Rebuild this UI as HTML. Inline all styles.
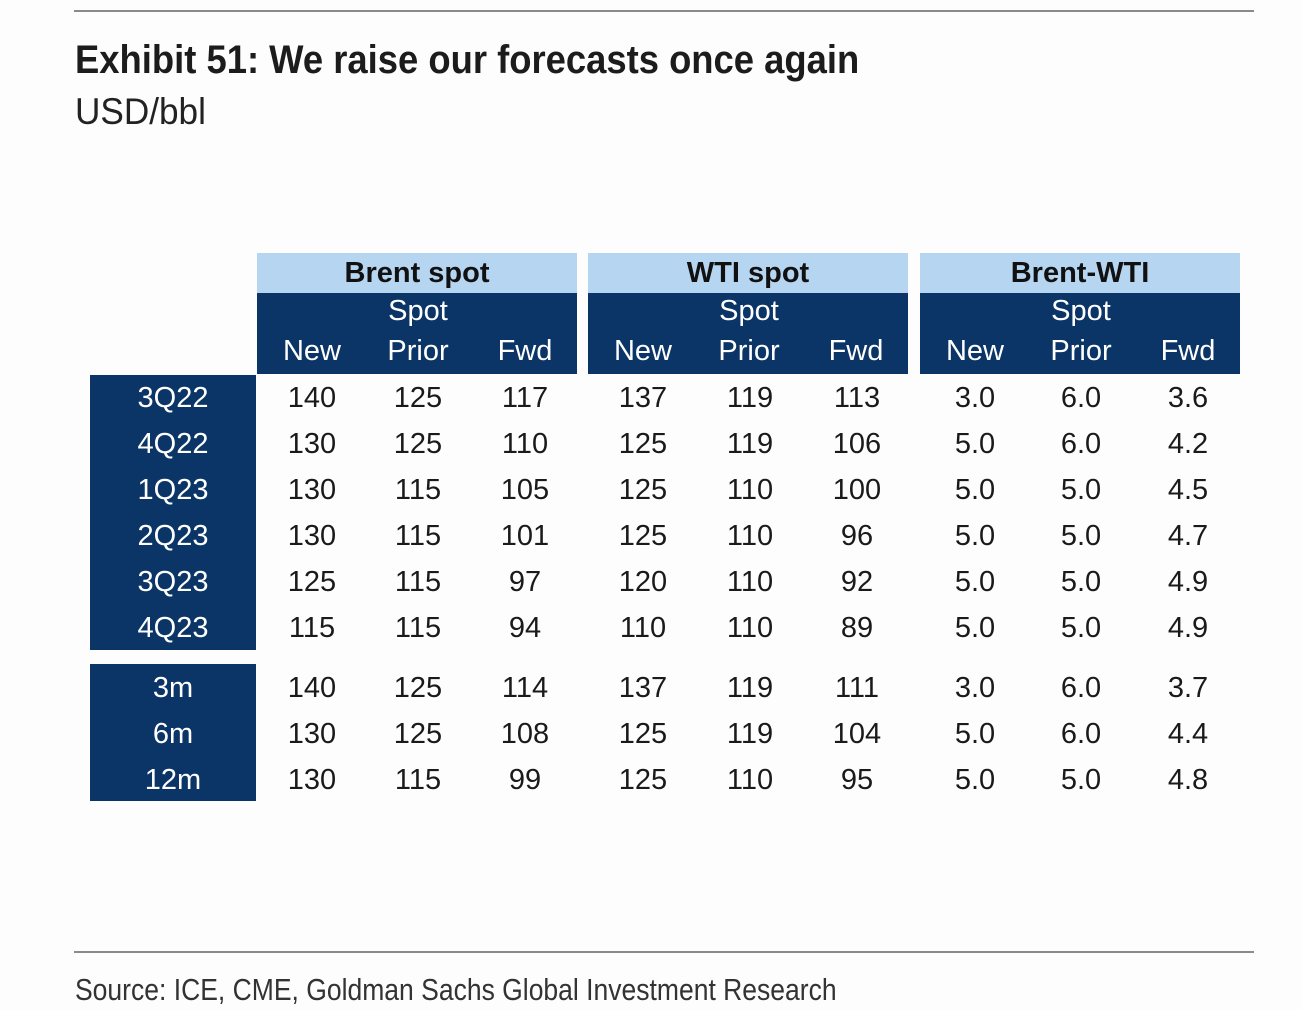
<!DOCTYPE html>
<html><head><meta charset="utf-8"><style>
body{margin:0;width:1302px;height:1010px;background:#fdfdfe;position:relative;overflow:hidden;font-family:"Liberation Sans",Arial,sans-serif;}
.a{position:absolute}
.hl{position:absolute;left:74px;width:1180px;height:2px;background:#8a8a8a}
.t{position:absolute;white-space:nowrap;transform-origin:0 0}
.lb{background:#b6d5f1;position:absolute;top:253px;height:40px;width:320px;text-align:center;font-weight:bold;font-size:29px;line-height:40px;color:#111}
.db{background:#0b3566;position:absolute;top:293px;height:81px;width:320px;color:#fff;font-size:29px}
.db div{position:absolute;width:100px;text-align:center;margin-left:-50px}
.lab{background:#0b3566;position:absolute;left:90px;width:166px;color:#fff;font-size:29px}
.lab div{position:absolute;width:166px;text-align:center;height:46px;line-height:46px}
.r{position:absolute;left:0;width:1302px;height:46px;line-height:46px;font-size:29px;color:#1a1a1a}
.r span{position:absolute;width:100px;text-align:center;margin-left:-50px}
</style></head><body>
<div class="hl" style="top:10px"></div>
<div class="t" style="left:75px;top:38px;font-size:40px;font-weight:bold;color:#1c1c1c;transform:scaleX(0.91)">Exhibit 51: We raise our forecasts once again</div>
<div class="t" style="left:75px;top:91px;font-size:37px;color:#222;transform:scaleX(0.95)">USD/bbl</div>

<div class="lb" style="left:257px">Brent spot</div>
<div class="lb" style="left:588px">WTI spot</div>
<div class="lb" style="left:920px">Brent-WTI</div>
<div class="db" style="left:257px"><div style="left:161px;top:2px">Spot</div><div style="left:55px;top:42px">New</div><div style="left:161px;top:42px">Prior</div><div style="left:268px;top:42px">Fwd</div></div>
<div class="db" style="left:588px"><div style="left:161px;top:2px">Spot</div><div style="left:55px;top:42px">New</div><div style="left:161px;top:42px">Prior</div><div style="left:268px;top:42px">Fwd</div></div>
<div class="db" style="left:920px"><div style="left:161px;top:2px">Spot</div><div style="left:55px;top:42px">New</div><div style="left:161px;top:42px">Prior</div><div style="left:268px;top:42px">Fwd</div></div>

<div class="lab" style="top:375px;height:275px">
<div style="top:0">3Q22</div><div style="top:46px">4Q22</div><div style="top:92px">1Q23</div><div style="top:138px">2Q23</div><div style="top:184px">3Q23</div><div style="top:230px">4Q23</div></div>
<div class="lab" style="top:664px;height:137px">
<div style="top:1px">3m</div><div style="top:47px">6m</div><div style="top:93px">12m</div></div>

<div class="r" style="top:375px"><span style="left:312px">140</span><span style="left:418px">125</span><span style="left:525px">117</span><span style="left:643px">137</span><span style="left:750px">119</span><span style="left:857px">113</span><span style="left:975px">3.0</span><span style="left:1081px">6.0</span><span style="left:1188px">3.6</span></div>
<div class="r" style="top:421px"><span style="left:312px">130</span><span style="left:418px">125</span><span style="left:525px">110</span><span style="left:643px">125</span><span style="left:750px">119</span><span style="left:857px">106</span><span style="left:975px">5.0</span><span style="left:1081px">6.0</span><span style="left:1188px">4.2</span></div>
<div class="r" style="top:467px"><span style="left:312px">130</span><span style="left:418px">115</span><span style="left:525px">105</span><span style="left:643px">125</span><span style="left:750px">110</span><span style="left:857px">100</span><span style="left:975px">5.0</span><span style="left:1081px">5.0</span><span style="left:1188px">4.5</span></div>
<div class="r" style="top:513px"><span style="left:312px">130</span><span style="left:418px">115</span><span style="left:525px">101</span><span style="left:643px">125</span><span style="left:750px">110</span><span style="left:857px">96</span><span style="left:975px">5.0</span><span style="left:1081px">5.0</span><span style="left:1188px">4.7</span></div>
<div class="r" style="top:559px"><span style="left:312px">125</span><span style="left:418px">115</span><span style="left:525px">97</span><span style="left:643px">120</span><span style="left:750px">110</span><span style="left:857px">92</span><span style="left:975px">5.0</span><span style="left:1081px">5.0</span><span style="left:1188px">4.9</span></div>
<div class="r" style="top:605px"><span style="left:312px">115</span><span style="left:418px">115</span><span style="left:525px">94</span><span style="left:643px">110</span><span style="left:750px">110</span><span style="left:857px">89</span><span style="left:975px">5.0</span><span style="left:1081px">5.0</span><span style="left:1188px">4.9</span></div>
<div class="r" style="top:665px"><span style="left:312px">140</span><span style="left:418px">125</span><span style="left:525px">114</span><span style="left:643px">137</span><span style="left:750px">119</span><span style="left:857px">111</span><span style="left:975px">3.0</span><span style="left:1081px">6.0</span><span style="left:1188px">3.7</span></div>
<div class="r" style="top:711px"><span style="left:312px">130</span><span style="left:418px">125</span><span style="left:525px">108</span><span style="left:643px">125</span><span style="left:750px">119</span><span style="left:857px">104</span><span style="left:975px">5.0</span><span style="left:1081px">6.0</span><span style="left:1188px">4.4</span></div>
<div class="r" style="top:757px"><span style="left:312px">130</span><span style="left:418px">115</span><span style="left:525px">99</span><span style="left:643px">125</span><span style="left:750px">110</span><span style="left:857px">95</span><span style="left:975px">5.0</span><span style="left:1081px">5.0</span><span style="left:1188px">4.8</span></div>

<div class="hl" style="top:951px"></div>
<div class="t" style="left:75px;top:972px;font-size:31px;color:#333;transform:scaleX(0.855)">Source: ICE, CME, Goldman Sachs Global Investment Research</div>
</body></html>
